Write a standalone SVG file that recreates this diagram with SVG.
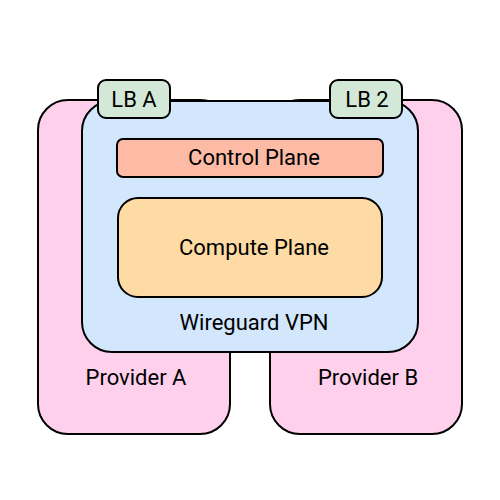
<svg xmlns="http://www.w3.org/2000/svg" width="500" height="500" viewBox="0 0 500 500">
<style>
.b{stroke:#000;stroke-width:2}
text{font-family:Roboto,"Liberation Sans",sans-serif;font-size:22px;fill:#000;text-anchor:middle;dominant-baseline:central}
</style>
<rect width="500" height="500" fill="#fff"/>
<g id="providerA"><rect class="b" x="38" y="100" width="192" height="334" rx="30" fill="#ffd0ec"/><text x="136" y="377">Provider A</text></g>
<g id="providerB"><rect class="b" x="270" y="100" width="192" height="334" rx="30" fill="#ffd0ec"/><text x="368" y="377">Provider B</text></g>
<g id="wireguard"><rect class="b" x="82" y="101" width="336" height="251" rx="30" fill="#d2e6fc"/><text x="254" y="322">Wireguard VPN</text></g>
<g id="control"><rect class="b" x="117" y="139" width="266" height="38" rx="6" fill="#fdbba5"/><text x="254" y="157">Control Plane</text></g>
<g id="compute"><rect class="b" x="118" y="198" width="264" height="99" rx="20" fill="#fedba4"/><text x="254" y="247">Compute Plane</text></g>
<g id="lbA"><rect class="b" x="98" y="80" width="72" height="38" rx="8" fill="#d3e8d7"/><text x="134" y="99">LB A</text></g>
<g id="lb2"><rect class="b" x="330" y="80" width="72" height="38" rx="8" fill="#d3e8d7"/><text x="367" y="99">LB 2</text></g>
<g id="connectors"></g>
</svg>
